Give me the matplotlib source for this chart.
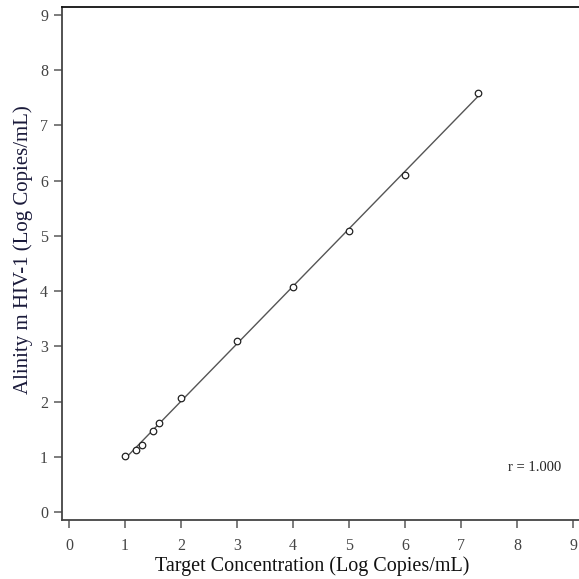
import numpy as np
import matplotlib
matplotlib.use("Agg")
import matplotlib.pyplot as plt

plt.rcParams['font.family'] = ['Liberation Serif', 'DejaVu Serif']

target = [1.0, 1.2, 1.3, 1.5, 1.6, 2.0, 3.0, 4.0, 5.0, 6.0, 7.3]
measured = [1.02, 1.12, 1.21, 1.47, 1.62, 2.07, 3.09, 4.07, 5.09, 6.10, 7.59]
r_text = "r = 1.000"

fig = plt.figure(figsize=(5.79, 5.79), dpi=100)
ax = fig.add_axes([62/579, 59/579, 517/579, 513/579])

slope, icpt = np.polyfit(target, measured, 1)
xs = np.array([min(target), max(target)])
ax.plot(xs, slope*xs + icpt, color='#555555', lw=1.0, zorder=2)
ax.scatter(target, measured, s=22, facecolors='white', edgecolors='#222222', linewidths=0.9, zorder=3)

ax.set_xlim(-0.125, 9.107)
ax.set_ylim(-0.145, 9.145)
ax.set_xticks(range(10))
ax.set_yticks(range(10))

ax.spines['right'].set_visible(False)
ax.spines['top'].set_color('#111111')
ax.spines['left'].set_color('#444444')
ax.spines['bottom'].set_color('#444444')
for s in ['top', 'left', 'bottom']:
    ax.spines[s].set_linewidth(1.3)

ax.tick_params(direction='out', length=6, width=1.2, color='#666666',
               labelcolor='#444444', labelsize=11.5)
ax.tick_params(axis='x', pad=7)
ax.tick_params(axis='y', pad=4)

ax.set_xlabel("Target Concentration (Log Copies/mL)", fontsize=14.5, color='#111111')
ax.set_ylabel("Alinity m HIV-1 (Log Copies/mL)", fontsize=15, color='#1a1a3a')
ax.xaxis.set_label_coords(0.4845, -0.071)
ax.yaxis.set_label_coords(-0.056, 0.528)

ax.text(8.32, 0.8, r_text, fontsize=10.5, color='#222222', ha='center', va='center')

fig.savefig("out.png", dpi=100)
